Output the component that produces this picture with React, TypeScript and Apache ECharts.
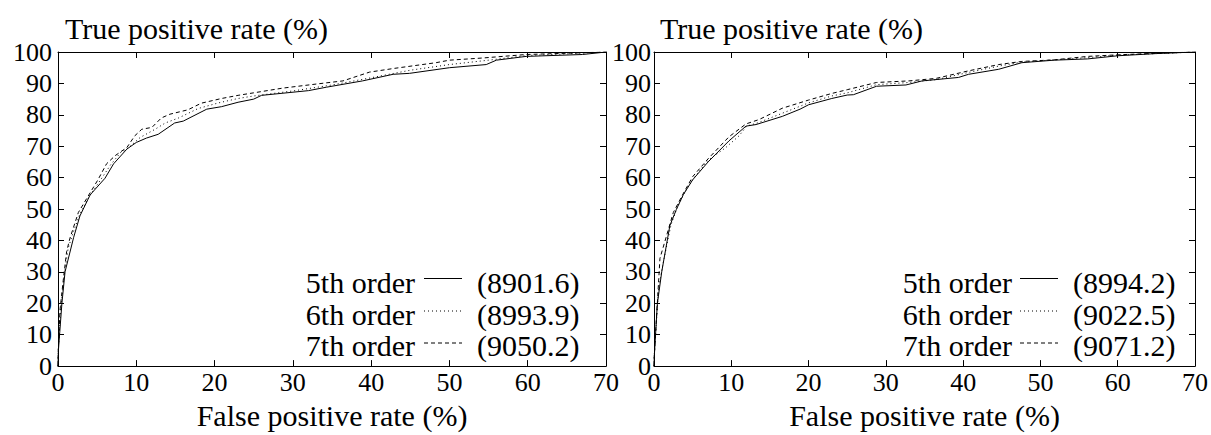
import React, { useEffect, useRef } from "react";
import * as echarts from "echarts";

// Left panel ROC curves: [false positive rate %, true positive rate %]
const left5th: [number, number][] = [
  [0, 0], [0.05, 5], [0.5, 20], [0.9, 30], [2, 41], [2.8, 47.8], [4.1, 54.5], [6, 59.8], [7.1, 64.4],
  [8.8, 69.1], [10, 71.2], [11.3, 72.6], [12.8, 73.8], [14.9, 77.4], [16, 78], [19, 81.8], [20.9, 82.6],
  [23, 84], [25, 85], [26, 86.2], [32, 87.7], [34.3, 88.8], [38.9, 90.8], [42.8, 92.9], [44.9, 93.2],
  [50, 95], [54.7, 96], [56, 97.4], [59.8, 98.6], [67, 99.2], [70, 100],
];
const left6th: [number, number][] = [
  [0, 0], [0.05, 6], [0.35, 18.5], [0.8, 29], [1.3, 37.5], [2, 43], [2.8, 48.5], [4, 54], [5.5, 59.5],
  [6.7, 64], [8, 68], [9, 69.5], [10.5, 72.8], [12.4, 75.4], [13.7, 77.4], [15.4, 79], [17.9, 82],
  [20.5, 83.8], [23, 85.2], [25, 86], [30, 87.6], [35, 89.5], [40, 91.8], [45, 94.2], [50, 96],
  [55, 97.4], [60, 98.9], [65, 99.4], [70, 100],
];
const left7th: [number, number][] = [
  [0, 0], [0.05, 6], [0.25, 17.7], [0.7, 28], [1.1, 36.4], [1.5, 40.5], [2.6, 48.9], [3.7, 53.5],
  [5.1, 59.3], [6.2, 64.4], [7.3, 67], [8.8, 69.6], [9.8, 73.3], [10.7, 75.4], [12, 76], [13.2, 79],
  [14.3, 80.2], [16.6, 81.6], [18.3, 83.7], [20.9, 85.2], [23, 86.2], [25, 87], [28.7, 88.5], [33, 89.8],
  [36.4, 90.8], [39.8, 93.6], [43, 94.8], [48.3, 96.6], [50, 97.4], [54.3, 98.1], [59.8, 99.2],
  [65, 99.6], [70, 100],
];

// Right panel ROC curves
const right5th: [number, number][] = [
  [0, 0], [0.05, 3.6], [0.43, 19.8], [1, 30], [2.05, 44.7], [2.9, 49.9], [3.8, 54.6], [5, 59.3], [7, 65],
  [9.7, 71.7], [11.9, 76.4], [13.2, 76.9], [16.6, 79.5], [18.9, 81.8], [20, 83.2], [23, 85.2], [25, 86.3],
  [25.8, 86.4], [28.8, 89.1], [32.6, 89.5], [34.7, 90.8], [39.4, 91.9], [40.7, 92.9], [44.6, 94.5],
  [47.6, 96.6], [51.8, 97.4], [56.1, 97.8], [60, 98.8], [65, 99.5], [70, 100],
];
const right6th: [number, number][] = [
  [0, 0], [0.05, 4], [0.6, 25], [1.2, 33], [2.2, 45], [3, 50.5], [4, 55.5], [5.2, 60], [7, 65.5],
  [9.3, 69.6], [11, 73.3], [12, 76.4], [13.5, 77.5], [16.6, 80.5], [20, 83.8], [23, 86], [25, 87],
  [28.8, 89.6], [33, 90.3], [36.5, 91.2], [40.7, 93.5], [44.6, 95.5], [47.6, 96.8], [51.8, 97.5],
  [56.1, 98.2], [60, 99], [65, 99.5], [70, 100],
];
const right7th: [number, number][] = [
  [0, 0], [0.05, 4], [0.77, 34.3], [2.5, 48.9], [3.8, 55], [5, 60.3], [7, 66], [9.7, 73], [11.9, 77.1],
  [13.6, 78.5], [16.6, 82.1], [20, 84.7], [23, 86.8], [25, 88], [28.8, 90.3], [33, 90.8], [36.5, 91.6],
  [40.7, 94], [44.6, 96], [47.6, 97], [51.8, 97.5], [56.1, 98.6], [60, 99.1], [65, 99.6], [70, 100],
];

const orderNames = ["5th order", "6th order", "7th order"];
const leftScores = ["(8901.6)", "(8993.9)", "(9050.2)"];
const rightScores = ["(8994.2)", "(9022.5)", "(9071.2)"];

const xName = "False positive rate (%)";
const yName = "True positive rate (%)";

const FONT = "Liberation Serif";
const dashTypes: any[] = ["solid", [1, 3], [4, 3]];

export default function App() {
  const ref = useRef<HTMLDivElement>(null);
  useEffect(() => {
    if (!ref.current) return;
    const chart = echarts.init(ref.current, undefined, { renderer: "svg" });

    const grids = [
      { left: 58, top: 52, width: 548, height: 321 },
      { left: 654, top: 52, width: 546, height: 321 },
    ];
    const labelMargins = [6, 3];

    const xAxes: any[] = [];
    const yAxes: any[] = [];
    grids.forEach((_, gi) => {
      const line = { show: true, onZero: false, lineStyle: { color: "#000", width: 1 } };
      const tick = { inside: true, length: 6, lineStyle: { color: "#000" } };
      xAxes.push({
        gridIndex: gi, type: "value", min: 0, max: 70, interval: 10, position: "bottom",
        axisLine: line, axisTick: tick,
        axisLabel: { fontFamily: FONT, fontSize: 26, color: "#000", margin: 3 },
        splitLine: { show: false },
        name: xName, nameLocation: "middle", nameGap: 32,
        nameTextStyle: { fontFamily: FONT, fontSize: 30, color: "#000" },
      });
      xAxes.push({
        gridIndex: gi, type: "value", min: 0, max: 70, interval: 10, position: "top",
        axisLine: line, axisTick: tick,
        axisLabel: { show: false }, splitLine: { show: false },
      });
      yAxes.push({
        gridIndex: gi, type: "value", min: 0, max: 100, interval: 10, position: "left",
        axisLine: line, axisTick: tick,
        axisLabel: { fontFamily: FONT, fontSize: 26, color: "#000", margin: labelMargins[gi] },
        splitLine: { show: false },
      });
      yAxes.push({
        gridIndex: gi, type: "value", min: 0, max: 100, interval: 10, position: "right",
        axisLine: line, axisTick: tick,
        axisLabel: { show: false }, splitLine: { show: false },
      });
    });

    const panels = [
      { data: [left5th, left6th, left7th], scores: leftScores },
      { data: [right5th, right6th, right7th], scores: rightScores },
    ];

    const series: any[] = [];
    panels.forEach((p, gi) => {
      p.data.forEach((d, si) => {
        series.push({
          type: "line", xAxisIndex: gi * 2, yAxisIndex: gi * 2,
          data: d, showSymbol: false,
          lineStyle: { color: "#000", width: 1, type: dashTypes[si] },
        });
      });
    });

    // y-axis titles and legends drawn as graphic items
    const graphic: any[] = [];
    const yNameX = [65, 660];
    yNameX.forEach((x) => {
      graphic.push({
        type: "text", x, y: 28.5,
        style: { text: yName, fontFamily: FONT, fontSize: 30, fill: "#000", align: "left", verticalAlign: "middle" },
      });
    });
    const rowY = [282.5, 314, 345.5];
    const lineY = [278.5, 311, 343];
    const legendX = [
      { textRight: 415, lineStart: 424, lineEnd: 462, scoreLeft: 477 },
      { textRight: 1012, lineStart: 1020, lineEnd: 1058, scoreLeft: 1073 },
    ];
    panels.forEach((p, gi) => {
      const L = legendX[gi];
      orderNames.forEach((nm, si) => {
        graphic.push({
          type: "text", x: L.textRight, y: rowY[si],
          style: { text: nm, fontFamily: FONT, fontSize: 30, fill: "#000", align: "right", verticalAlign: "middle" },
        });
        const lineStyle: any = { stroke: "#000", lineWidth: 1 };
        if (si > 0) lineStyle.lineDash = dashTypes[si];
        graphic.push({
          type: "line", shape: { x1: L.lineStart, y1: lineY[si], x2: L.lineEnd, y2: lineY[si] },
          style: lineStyle,
        });
        graphic.push({
          type: "text", x: L.scoreLeft, y: rowY[si],
          style: { text: p.scores[si], fontFamily: FONT, fontSize: 30, fill: "#000", align: "left", verticalAlign: "middle" },
        });
      });
    });

    chart.setOption({
      animation: false,
      textStyle: { fontFamily: FONT },
      grid: grids,
      xAxis: xAxes,
      yAxis: yAxes,
      series,
      graphic,
    });
    return () => chart.dispose();
  }, []);
  return (
    <div style={{ position: "absolute", left: 0, top: 0, width: 1211, height: 435 }}>
      <div ref={ref} style={{ width: 1211, height: 435 }} />
    </div>
  );
}
